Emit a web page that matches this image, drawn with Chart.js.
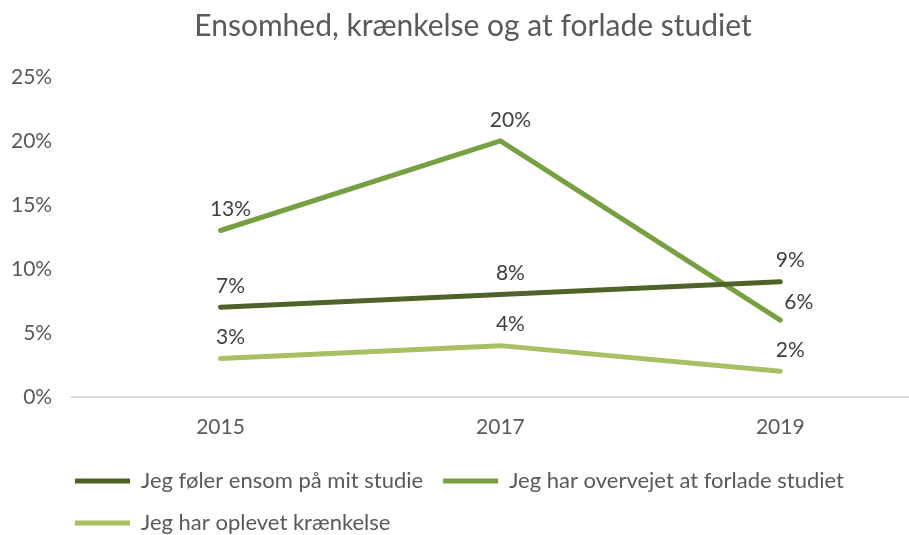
<!DOCTYPE html>
<html>
<head>
<meta charset="utf-8">
<script src="https://cdn.jsdelivr.net/npm/chart.js@4"></script>
<style>
  html, body { margin: 0; padding: 0; background: #fff; }
  #wrap { width: 909px; height: 535px; }
</style>
</head>
<body>
<div id="wrap"><canvas id="lineChart" width="909" height="535"></canvas></div>
<script>
// Data
const years = [2015, 2017, 2019];
const ensom = [0.07, 0.08, 0.09];
const forlade = [0.13, 0.20, 0.06];
const kraenkelse = [0.03, 0.04, 0.02];
const seriesNames = ['Jeg føler ensom på mit studie', 'Jeg har overvejet at forlade studiet', 'Jeg har oplevet krænkelse'];
const yTicks = [0, 0.05, 0.10, 0.15, 0.20, 0.25];

const colors = ['#4F6228', '#77A043', '#A9BF63'];
const textColor = '#595959';
const fontFamily = 'Lato';

const toPoints = (vals) => vals.map((v, i) => ({ x: years[i], y: v }));

// simple value labels (no datalabels plugin available)
const valueLabels = {
    id: 'valueLabels',
    afterDatasetsDraw(chart) {
        const c = chart.ctx;
        c.save();
        c.font = '21px ' + fontFamily;
        c.fillStyle = '#404040';
        c.textBaseline = 'middle';
        chart.data.datasets.forEach((ds, i) => {
            const meta = chart.getDatasetMeta(i);
            meta.data.forEach((pt, j) => {
                const txt = Math.round(ds.data[j].y * 100) + '%';
                const pos = (ds.labelPos && ds.labelPos[j]) || 'top';
                if (pos === 'right') {
                    c.textAlign = 'left';
                    c.fillText(txt, pt.x + 4, pt.y - 18);
                } else {
                    c.textAlign = 'center';
                    c.fillText(txt, pt.x + 10, pt.y - 21);
                }
            });
        });
        c.restore();
    }
};

// nudge legend and title so they sit like the original
const blockShift = {
    id: 'blockShift',
    afterLayout(chart) {
        chart.legend.left += 56;
        chart.titleBlock.left += 38;
    }
};

const data = {
    datasets: [{
        label: seriesNames[0],
        data: toPoints(ensom),
        borderColor: colors[0],
        backgroundColor: colors[0],
        borderWidth: 5
    }, {
        label: seriesNames[1],
        data: toPoints(forlade),
        borderColor: colors[1],
        backgroundColor: colors[1],
        borderWidth: 5,
        labelPos: ['top', 'top', 'right']
    }, {
        label: seriesNames[2],
        data: toPoints(kraenkelse),
        borderColor: colors[2],
        backgroundColor: colors[2],
        borderWidth: 5
    }]
};

const options = {
    responsive: false,
    animation: false,
    layout: { padding: { left: -1, right: 0, top: 0, bottom: -9 } },
    elements: {
        point: { radius: 0, hoverRadius: 0 },
        line: { tension: 0, borderCapStyle: 'round', borderJoinStyle: 'round' }
    },
    plugins: {
        title: {
            display: true,
            text: 'Ensomhed, krænkelse og at forlade studiet',
            color: textColor,
            font: { family: fontFamily, size: 30, weight: 'normal' },
            padding: { top: 8, bottom: 33 }
        },
        legend: {
            position: 'bottom',
            align: 'start',
            labels: {
                color: textColor,
                font: { family: fontFamily, size: 22 },
                boxWidth: 55,
                boxHeight: 5,
                padding: 20,
                useBorderRadius: true,
                borderRadius: 2.5,
                generateLabels(chart) {
                    return chart.data.datasets.map((ds, i) => ({
                        text: ds.label,
                        fillStyle: ds.borderColor,
                        strokeStyle: ds.borderColor,
                        lineWidth: 0,
                        fontColor: textColor,
                        datasetIndex: i
                    }));
                }
            }
        },
        tooltip: { enabled: false }
    },
    scales: {
        x: {
            type: 'linear',
            min: 2013.94,
            max: 2019.92,
            afterBuildTicks: (axis) => { axis.ticks = years.map(v => ({ value: v })); },
            grid: { display: false },
            border: { color: '#D9D9D9', width: 2 },
            ticks: {
                color: textColor,
                font: { family: fontFamily, size: 21 },
                padding: 10,
                callback: (v) => String(v)
            }
        },
        y: {
            min: 0,
            max: 0.25,
            afterBuildTicks: (axis) => { axis.ticks = yTicks.map(v => ({ value: v })); },
            grid: { display: false },
            border: { display: false },
            ticks: {
                color: textColor,
                font: { family: fontFamily, size: 21 },
                padding: 12,
                callback: (v) => Math.round(v * 100) + '%'
            }
        }
    }
};

const ctx = document.getElementById('lineChart').getContext('2d');
const myChart = new Chart(ctx, {
    type: 'line',
    data: data,
    options: options,
    plugins: [valueLabels, blockShift]
});
</script>
</body>
</html>
